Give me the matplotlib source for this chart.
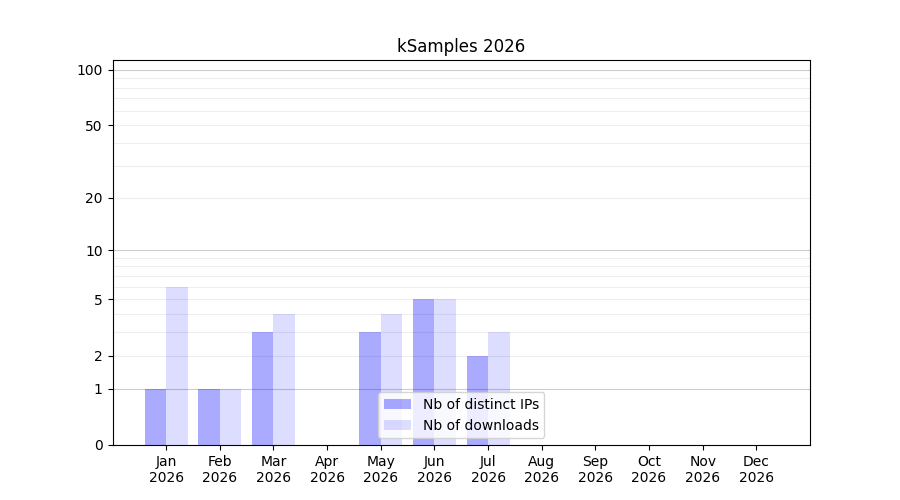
import numpy as np
import matplotlib
matplotlib.use("Agg")
import matplotlib.pyplot as plt

months = ["Jan", "Feb", "Mar", "Apr", "May", "Jun", "Jul", "Aug", "Sep", "Oct", "Nov", "Dec"]
year = "2026"
distinct_ips = [1, 1, 3, 0, 3, 5, 2, 0, 0, 0, 0, 0]
downloads = [6, 1, 4, 0, 4, 5, 3, 0, 0, 0, 0, 0]
ytick_values = [0, 1, 2, 5, 10, 20, 50, 100]

fig, ax = plt.subplots(figsize=(9, 5), dpi=100)
ax.set_yscale("function", functions=(lambda v: np.log10(1 + np.clip(v, 0, None)),
                                     lambda v: 10 ** v - 1))

x = np.arange(len(months))
w = 0.4
ax.bar(x - w / 2, distinct_ips, width=w, color="blue", alpha=1 / 3,
       label="Nb of distinct IPs", zorder=2)
ax.bar(x + w / 2, downloads, width=w, color="blue", alpha=0.135,
       label="Nb of downloads", zorder=2)

# gridlines
for m in [1, 10]:
    for k in range(2, 10):
        ax.axhline(m * k, color="#eeeeee", linewidth=0.8, zorder=0)
for g in [1, 10, 100]:
    ax.axhline(g, color="#cccccc", linewidth=0.8, zorder=1)

ax.set_xlim(-1, 12)
ax.set_ylim(0, 113)
ax.set_xticks(x)
ax.set_xticklabels([f"{m}\n{year}" for m in months])
ax.set_yticks(ytick_values)
ax.set_yticklabels([str(v) for v in ytick_values])
ax.minorticks_off()
ax.set_title("kSamples 2026")
ax.legend(loc="lower center")

fig.savefig("out.png", dpi=100)
